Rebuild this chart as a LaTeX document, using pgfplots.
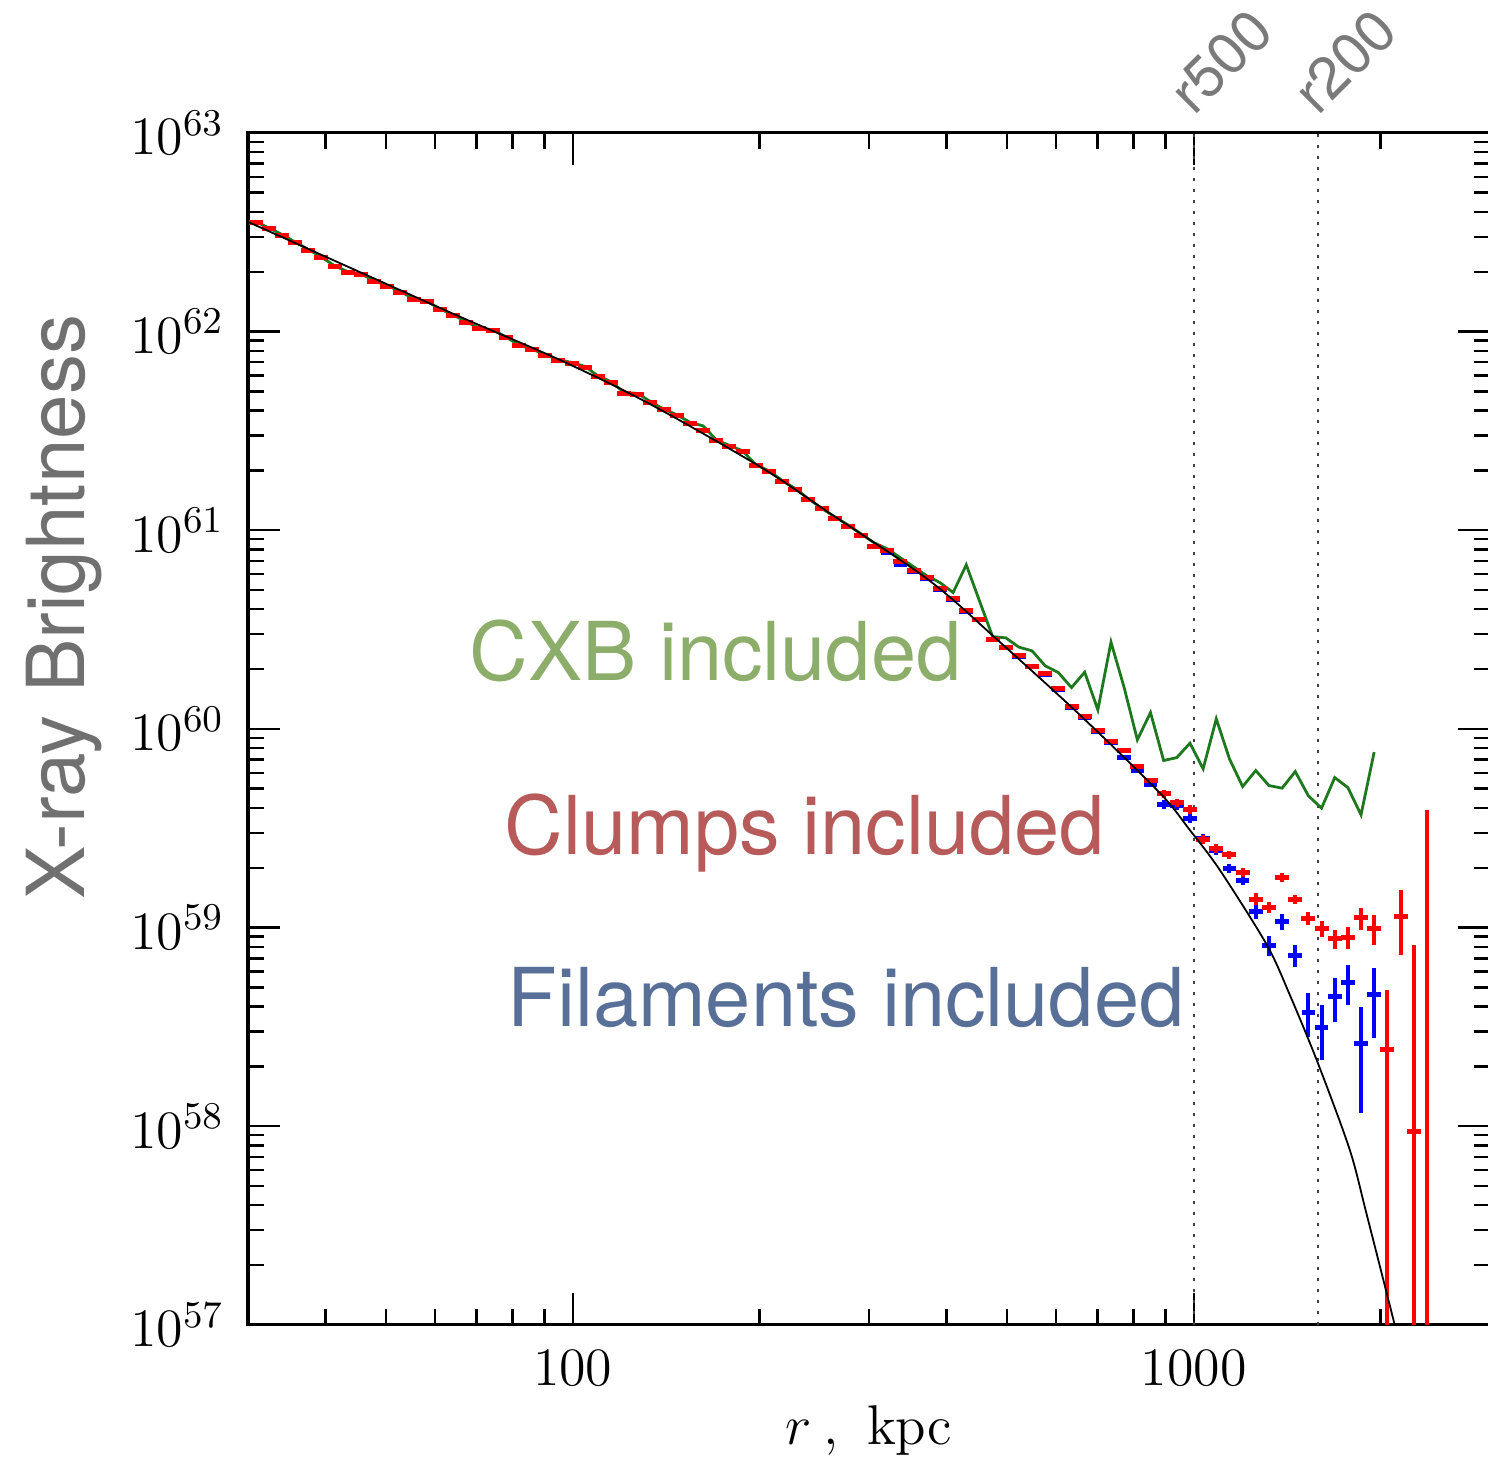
\RequirePackage{fix-cm}
\documentclass[border=0pt]{standalone}
\usepackage{fontspec}
\usepackage{pgfplots}
\pgfplotsset{compat=1.18}
\newfontfamily\helv{TeX Gyre Heros}
\definecolor{cxbtxt}{RGB}{141,174,107}
\definecolor{clumptxt}{RGB}{182,90,90}
\definecolor{filtxt}{RGB}{88,112,152}
\definecolor{cxbline}{RGB}{30,120,30}
\definecolor{lgray}{RGB}{112,112,112}
\definecolor{rgray}{RGB}{122,122,122}

% clumps included (red)
\pgfplotstableread{
x y ep em
30.87 3.54e62 0 0
32.41 3.29e62 0 0
34.03 3.05e62 0 0
35.74 2.79e62 0 0
37.52 2.56e62 0 0
39.40 2.35e62 0 0
41.37 2.12e62 0 0
43.44 1.98e62 0 0
45.61 1.93e62 0 0
47.89 1.78e62 0 0
50.28 1.68e62 0 0
52.80 1.57e62 0 0
55.44 1.45e62 0 0
58.21 1.41e62 0 0
61.12 1.29e62 0 0
64.18 1.20e62 0 0
67.39 1.11e62 0 0
70.76 1.03e62 0 0
74.29 1.01e62 0 0
78.01 9.32e61 0 0
81.91 8.46e61 0 0
86.00 8.08e61 0 0
90.30 7.56e61 0 0
94.82 7.13e61 0 0
99.56 6.92e61 0 0
104.54 6.61e61 0 0
109.76 5.93e61 0 0
115.25 5.53e61 0 0
121.02 4.89e61 0 0
127.07 4.83e61 0 0
133.42 4.40e61 0 0
140.09 4.03e61 0 0
147.10 3.77e61 0 0
154.45 3.46e61 0 0
162.17 3.17e61 0 0
170.28 2.82e61 0 0
178.80 2.64e61 0 0
187.74 2.49e61 0 0
197.12 2.12e61 0 0
206.98 1.97e61 0 0
217.33 1.76e61 0 0
228.19 1.60e61 0 0
239.60 1.43e61 0 0
251.58 1.28e61 0 0
264.16 1.14e61 0 0
277.37 1.04e61 0 0
291.24 9.37e60 0 0
305.80 8.24e60 0 0
321.09 7.87e60 0 0
337.14 6.93e60 0 0
354.00 6.24e60 0 0
371.70 5.76e60 0 0
390.29 5.06e60 0 0
409.80 4.51e60 0 0
430.29 3.92e60 0 0
451.81 3.57e60 0 0
474.40 2.83e60 0 0
498.12 2.58e60 0 0
523.02 2.33e60 0 0
549.17 2.07e60 0 0
576.63 1.89e60 0 0
605.46 1.59e60 0 0
635.74 1.29e60 0 0
667.52 1.15e60 0 0
700.90 9.76e59 0 0
735.94 8.59e59 0 0
772.74 7.74e59 0 0
811.38 6.43e59 0 0
851.95 5.47e59 0 0
894.54 4.70e59 2.3e58 2.3e58
939.27 4.25e59 2.1e58 2.1e58
986.23 3.94e59 2.0e58 2.0e58
1035.5 2.78e59 1.4e58 1.4e58
1087.3 2.50e59 1.25e58 1.25e58
1141.7 2.32e59 1.2e58 1.2e58
1198.8 1.89e59 9.5e57 9.5e57
1258.7 1.39e59 9.9e57 9.4e57
1321.7 1.26e59 9.0e57 8.0e57
1387.7 1.79e59 9.0e57 9.0e57
1457.1 1.38e59 7.0e57 7.0e57
1530.0 1.11e59 8.9e57 8.4e57
1606.5 9.85e58 9.5e57 9.2e57
1686.8 8.84e58 8.9e57 1.03e58
1771.1 8.93e58 1.18e58 1.15e58
1859.7 1.12e59 1.39e58 1.49e58
1952.7 9.85e58 1.73e58 1.73e58
2050.3 2.42e58 2.44e58 2.41e58
2152.8 1.13e59 4.2e58 3.99e58
2260.5 9.37e57 7.24e58 9.27e57
2373.5 5e56 3.905e59 4e56
}\clumps

% filaments included (blue)
\pgfplotstableread{
x y ep em
30.87 3.54e62 0 0
32.41 3.29e62 0 0
34.03 3.05e62 0 0
35.74 2.79e62 0 0
37.52 2.56e62 0 0
39.40 2.35e62 0 0
41.37 2.12e62 0 0
43.44 1.98e62 0 0
45.61 1.93e62 0 0
47.89 1.78e62 0 0
50.28 1.68e62 0 0
52.80 1.57e62 0 0
55.44 1.45e62 0 0
58.21 1.41e62 0 0
61.12 1.29e62 0 0
64.18 1.20e62 0 0
67.39 1.11e62 0 0
70.76 1.03e62 0 0
74.29 1.01e62 0 0
78.01 9.32e61 0 0
81.91 8.46e61 0 0
86.00 8.08e61 0 0
90.30 7.56e61 0 0
94.82 7.13e61 0 0
99.56 6.92e61 0 0
104.54 6.61e61 0 0
109.76 5.93e61 0 0
115.25 5.53e61 0 0
121.02 4.89e61 0 0
127.07 4.83e61 0 0
133.42 4.40e61 0 0
140.09 4.03e61 0 0
147.10 3.77e61 0 0
154.45 3.46e61 0 0
162.17 3.17e61 0 0
170.28 2.82e61 0 0
178.80 2.64e61 0 0
187.74 2.49e61 0 0
197.12 2.12e61 0 0
206.98 1.97e61 0 0
217.33 1.76e61 0 0
228.19 1.60e61 0 0
239.60 1.43e61 0 0
251.58 1.28e61 0 0
264.16 1.14e61 0 0
277.37 1.04e61 0 0
291.24 9.37e60 0 0
305.80 8.24e60 0 0
321.09 7.69e60 0 0
337.14 6.69e60 0 0
354.00 6.17e60 0 0
371.70 5.70e60 0 0
390.29 5.01e60 0 0
409.80 4.46e60 0 0
430.29 3.88e60 0 0
451.81 3.53e60 0 0
474.40 2.80e60 0 0
498.12 2.55e60 0 0
523.02 2.31e60 0 0
549.17 2.05e60 0 0
576.63 1.87e60 0 0
605.46 1.57e60 0 0
635.74 1.28e60 0 0
667.52 1.14e60 0 0
700.90 9.66e59 0 0
735.94 8.50e59 0 0
772.74 7.15e59 0 0
811.38 6.15e59 0 0
851.95 5.23e59 0 0
894.54 4.18e59 2.1e58 2.1e58
939.27 4.11e59 2.1e58 2.1e58
986.23 3.55e59 1.8e58 1.8e58
1035.5 2.82e59 1.4e58 1.4e58
1087.3 2.43e59 1.2e58 1.2e58
1141.7 1.99e59 1.0e58 1.0e58
1198.8 1.72e59 8.6e57 8.6e57
1258.7 1.204e59 1.01e58 9.4e57
1321.7 8.09e58 9.9e57 8.9e57
1387.7 1.072e59 1.04e58 9.5e57
1457.1 7.20e58 9.8e57 8.6e57
1530.0 3.733e58 9.6e57 9.2e57
1606.5 3.137e58 9.4e57 9.8e57
1686.8 4.494e58 1.09e58 1.14e58
1771.1 5.309e58 1.18e58 1.23e58
1859.7 2.597e58 1.40e58 1.43e58
1952.7 4.583e58 1.70e58 1.80e58
}\filaments

% CXB included (green line)
\pgfplotstableread{
x y
30.87 3.57e62
32.41 3.32e62
34.03 3.08e62
35.74 2.82e62
37.52 2.59e62
39.40 2.37e62
41.37 2.14e62
43.44 2.00e62
45.61 1.95e62
47.89 1.80e62
50.28 1.70e62
52.80 1.59e62
55.44 1.46e62
58.21 1.42e62
61.12 1.30e62
64.18 1.21e62
67.39 1.12e62
70.76 1.04e62
74.29 1.02e62
78.01 9.41e61
81.91 8.54e61
86.00 8.16e61
90.30 7.64e61
94.82 7.20e61
99.56 6.99e61
104.54 6.68e61
109.76 5.99e61
115.25 5.59e61
121.02 4.94e61
127.07 4.88e61
133.42 4.44e61
140.09 4.07e61
147.10 3.81e61
154.45 3.49e61
162.17 3.35e61
170.28 2.85e61
178.80 2.67e61
187.74 2.51e61
197.12 2.14e61
206.98 1.99e61
217.33 1.78e61
228.19 1.62e61
239.60 1.44e61
251.58 1.29e61
264.16 1.167e61
277.37 1.064e61
291.24 9.585e60
305.80 8.637e60
321.09 8.054e60
337.14 7.258e60
354.00 6.541e60
371.70 5.893e60
390.29 5.450e60
409.80 4.856e60
430.29 6.693e60
451.81 4.409e60
474.40 2.914e60
498.12 2.871e60
523.02 2.578e60
549.17 2.470e60
576.63 2.076e60
605.46 1.920e60
635.74 1.614e60
667.52 1.929e60
700.90 1.246e60
735.94 2.732e60
772.74 1.614e60
811.38 8.806e59
851.95 1.208e60
894.54 6.926e59
939.27 7.171e59
986.23 8.472e59
1035.5 6.292e59
1087.3 1.123e60
1141.7 7.063e59
1198.8 5.124e59
1258.7 6.168e59
1321.7 5.183e59
1387.7 5.029e59
1457.1 6.098e59
1530.0 4.600e59
1606.5 3.990e59
1686.8 5.686e59
1771.1 5.065e59
1859.7 3.692e59
1952.7 7.636e59
}\cxb

\begin{document}
\begin{tikzpicture}
\begin{axis}[
  scale only axis,
  width=310.5pt, height=298pt,
  xmode=log, ymode=log,
  xmin=30, xmax=3000, ymin=1e57, ymax=1e63,
  xtick={100,1000}, xticklabels={$100$,$1000$},
  minor xtick={40,50,60,70,80,90,200,300,400,500,600,700,800,900,2000},
  ytick={1e57,1e58,1e59,1e60,1e61,1e62,1e63},
  minor ytick={2e57,3e57,4e57,5e57,6e57,7e57,8e57,9e57,
               2e58,3e58,4e58,5e58,6e58,7e58,8e58,9e58,
               2e59,3e59,4e59,5e59,6e59,7e59,8e59,9e59,
               2e60,3e60,4e60,5e60,6e60,7e60,8e60,9e60,
               2e61,3e61,4e61,5e61,6e61,7e61,8e61,9e61,
               2e62,3e62,4e62,5e62,6e62,7e62,8e62,9e62},
  tick align=inside,
  major tick length=8pt, minor tick length=4pt,
  every tick/.style={black, line width=0.6pt},
  axis line style={line width=0.8pt},
  tick label style={font=\fontsize{13.5}{16}\selectfont},
  yticklabel style={xshift=-2.5pt},
  xticklabel style={yshift=-3pt},
  xlabel={$r$\kern3pt,\kern7pt kpc},
  xlabel style={at={(axis description cs:0.5,0)}, anchor=base, yshift=-30pt,
    font=\fontsize{14}{16}\selectfont},
  clip mode=individual,
]
% r500 and r200
\addplot[black!75, line width=0.6pt, dash pattern=on 0.75pt off 2pt] coordinates {(1000,1e57) (1000,1e63)};
\addplot[black!75, line width=0.6pt, dash pattern=on 0.75pt off 2pt] coordinates {(1584,1e57) (1584,1e63)};

\addplot[cxbline, line width=0.7pt] table[x=x, y=y] {\cxb};

\addplot[blue, only marks, mark=-, mark size=1.7pt, mark options={line width=1.2pt},
  error bars/.cd, y dir=both, y explicit, error mark=none,
  error bar style={line width=1pt, blue}]
  table[x=x, y=y, y error plus=ep, y error minus=em] {\filaments};

\addplot[red, only marks, mark=-, mark size=1.75pt, mark options={line width=1.25pt},
  error bars/.cd, y dir=both, y explicit, error mark=none,
  error bar style={line width=1pt, red}]
  table[x=x, y=y, y error plus=ep, y error minus=em] {\clumps};

% model
\addplot[black, line width=0.45pt, smooth] coordinates {
  (30,3.565e62) (62.9,1.263e62) (95.3,7.20e61) (133.0,4.324e61) (200.1,2.091e61)
  (259.3,1.218e61) (375.8,5.559e60) (487.0,2.74e60) (655.3,1.177e60) (881.6,4.763e59)
  (985.3,3.10e59) (1101.2,1.951e59) (1311.3,8.18e58) (1428,4.58e58) (1584.1,2.084e58)
  (1783.6,7.602e57) (1897,3.65e57) (2107,1.0e57) (2227,4.99e56)
};

\node[anchor=base west, inner sep=0, text=cxbtxt, font=\helv\fontsize{20.3}{24}\selectfont]
  at (axis cs:68,1.744e60) {CXB included};
\node[anchor=base west, inner sep=0, text=clumptxt, font=\helv\fontsize{20.3}{24}\selectfont]
  at (axis cs:77.4,2.32e59) {Clumps included};
\node[anchor=base west, inner sep=0, text=filtxt, font=\helv\fontsize{20.3}{24}\selectfont]
  at (axis cs:78.3,3.16e58) {Filaments included};

\node[rotate=45, anchor=base west, inner sep=0, text=rgray, font=\helv\fontsize{14.5}{16}\selectfont]
  at ([yshift=4pt]axis cs:1000,1e63) {r500};
\node[rotate=45, anchor=base west, inner sep=0, text=rgray, font=\helv\fontsize{14.5}{16}\selectfont]
  at ([yshift=4pt]axis cs:1584,1e63) {r200};
\end{axis}
\node[rotate=90, anchor=base, inner sep=0, text=lgray, font=\helv\fontsize{20}{24}\selectfont]
  at (-40.75pt,179.4pt) {X-ray Brightness};
\pgfresetboundingbox
\path[use as bounding box] (-62pt,-33pt) rectangle (310pt,331.25pt);
\end{tikzpicture}
\end{document}
